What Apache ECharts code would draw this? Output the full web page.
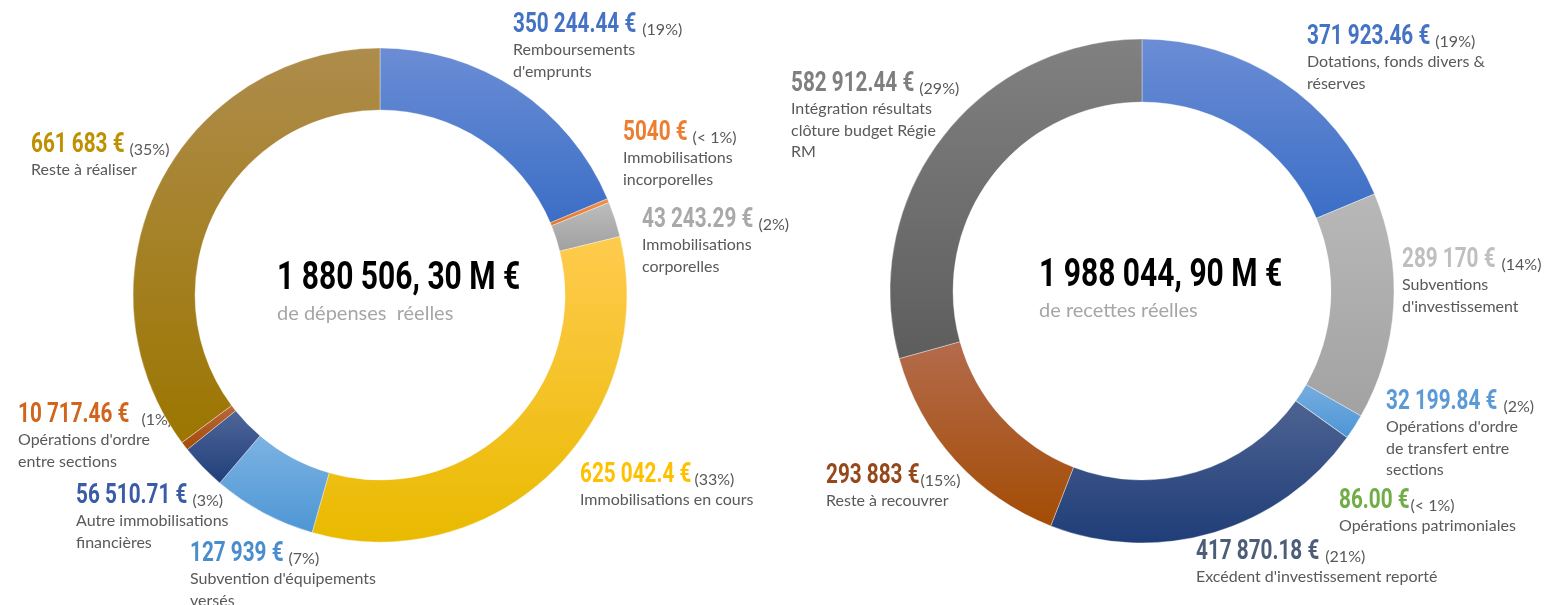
<!DOCTYPE html>
<html>
<head>
<meta charset="utf-8">
<script src="https://cdn.jsdelivr.net/npm/echarts@6/dist/echarts.min.js"></script>
<style>
html,body{margin:0;padding:0;background:#fff;}
#chart{width:1547px;height:605px;}
</style>
</head>
<body>
<div id="chart"></div>
<script>
// ---------- DATA ----------
const expCategories = ["Remboursements\nd'emprunts", "Immobilisations\nincorporelles", "Immobilisations\ncorporelles", "Immobilisations en cours", "Subvention d'équipements\nversés", "Autre immobilisations\nfinancières", "Opérations d'ordre\nentre sections", "Reste à réaliser"];
const expValues = [350244.44, 5040, 43243.29, 625042.4, 127939, 56510.71, 10717.46, 661683];
const expValueLabels = ["350 244.44 €", "5040 €", "43 243.29 €", "625 042.4 €", "127 939 €", "56 510.71 €", "10 717.46 €", "661 683 €"];
const expPctLabels = ["(19%)", "(< 1%)", "(2%)", "(33%)", "(7%)", "(3%)", "(1%)", "(35%)"];
const expTotalLabel = "1 880 506, 30 M €";
const expSubLabel = "de dépenses  réelles";

const recCategories = ["Dotations, fonds divers &\nréserves", "Subventions\nd'investissement", "Opérations d'ordre\nde transfert entre\nsections", "Opérations patrimoniales", "Excédent d'investissement reporté", "Reste à recouvrer", "Intégration résultats\nclôture budget Régie\nRM"];
const recValues = [371923.46, 289170, 32199.84, 86.00, 417870.18, 293883, 582912.44];
const recValueLabels = ["371 923.46 €", "289 170 €", "32 199.84 €", "86.00 €", "417 870.18 €", "293 883 €", "582 912.44 €"];
const recPctLabels = ["(19%)", "(14%)", "(2%)", "(< 1%)", "(21%)", "(15%)", "(29%)"];
const recTotalLabel = "1 988 044, 90 M €";
const recSubLabel = "de recettes réelles";

// ---------- STYLES / LAYOUT ----------
const expTop = ['#6B8DD5', '#F29256', '#BDBDBD', '#FFCB4E', '#7DB3E3', '#4E6699', '#B8683C', '#AE8C4C'];
const expBot = ['#3B6EC6', '#E6701F', '#A0A0A0', '#E9BA00', '#4D96D4', '#223F7A', '#A54A08', '#9C7600'];
const expNumColor = ['#4472C4', '#ED7D31', '#A9A9A9', '#FFC000', '#4A8DCD', '#3A5BA5', '#D0661E', '#BF9000'];
const expLabelPos = [[513, 15], [623, 123], [642, 210], [580, 465], [190, 544], [76, 486], [18, 405], [31, 135]];
const expGap = [6, 5, 5, 3, 5, 5, 12, 5];

const recTop = ['#6B8DD5', '#B8B8B8', '#76AEE0', '#70AD47', '#4D6392', '#B46B4C', '#818181'];
const recBot = ['#3B6EC6', '#A2A2A2', '#4D95D6', '#70AD47', '#1F3D78', '#A34C04', '#5D5D5D'];
const recNumColor = ['#4472C4', '#BFBFBF', '#5B9BD5', '#70AD47', '#4D5D78', '#95481A', '#7F7F7F'];
const recLabelPos = [[1307, 27], [1402, 250], [1386, 392], [1339, 491], [1196, 542], [826, 466], [791, 74]];
const recGap = [5, 6, 6, 1, 6, 1, 5];

const NUM_FAMILY = 'Roboto, "Noto Sans", sans-serif';
const TXT_FAMILY = 'Lato, "Noto Sans", sans-serif';
const NUM_FONT = 'bold 28px ' + NUM_FAMILY;
const NUM_SCALE = 0.74;
const PCT_FONT = '16px ' + TXT_FAMILY;
const TXT_FONT = '16px ' + TXT_FAMILY;
const BIG_FONT = 'bold 39px ' + NUM_FAMILY;
const BIG_SCALE = 0.77;
const SUB_FONT = '20px ' + TXT_FAMILY;

const measureCtx = document.createElement('canvas').getContext('2d');
function textWidth(text, font) { measureCtx.font = font; return measureCtx.measureText(text).width; }

function buildData(cats, vals, tops, bots) {
  return vals.map((v, i) => ({
    name: cats[i].replace(/\n/g, ' '),
    value: v,
    itemStyle: {
      color: new echarts.graphic.LinearGradient(0, 0, 0, 1, [
        { offset: 0, color: tops[i] },
        { offset: 1, color: bots[i] }
      ])
    }
  }));
}

function buildLabels(cats, valLabels, pctLabels, numColors, gaps, positions) {
  return cats.map((c, i) => {
    const [x, capTop] = positions[i];
    const numW = textWidth(valLabels[i], NUM_FONT) * NUM_SCALE;
    const children = [
      { type: 'text', x: 0, y: capTop - 3.6, scaleX: NUM_SCALE, silent: true,
        style: { text: valLabels[i], font: NUM_FONT, fill: numColors[i], verticalAlign: 'top', align: 'left' } },
      { type: 'text', x: numW + gaps[i], y: capTop + 6.8, silent: true,
        style: { text: pctLabels[i], font: PCT_FONT, fill: '#595959', verticalAlign: 'top', align: 'left' } }
    ];
    c.split('\n').forEach((line, k) => {
      children.push({ type: 'text', x: 0, y: capTop + 29.5 + k * 21.5 - 2.2, silent: true,
        style: { text: line, font: TXT_FONT, fill: '#595959', verticalAlign: 'top', align: 'left' } });
    });
    return { type: 'group', x: x, y: 0, children: children };
  });
}

function makeSeries(data, center, radius) {
  return {
    type: 'pie',
    center: center,
    radius: radius,
    startAngle: 90,
    clockwise: true,
    avoidLabelOverlap: false,
    animation: false,
    silent: true,
    itemStyle: { borderColor: 'rgba(255,255,255,0.6)', borderWidth: 0.6 },
    label: { show: false },
    labelLine: { show: false },
    emphasis: { disabled: true },
    data: data
  };
}

const chart = echarts.init(document.getElementById('chart'), null, { renderer: 'canvas' });

const graphics = []
  .concat(buildLabels(expCategories, expValueLabels, expPctLabels, expNumColor, expGap, expLabelPos))
  .concat(buildLabels(recCategories, recValueLabels, recPctLabels, recNumColor, recGap, recLabelPos))
  .concat([
    { type: 'text', x: 277, y: 260, scaleX: BIG_SCALE, silent: true,
      style: { text: expTotalLabel, font: BIG_FONT, fill: '#000000', verticalAlign: 'top' } },
    { type: 'text', x: 277, y: 304, silent: true,
      style: { text: expSubLabel, font: SUB_FONT, fill: '#A6A6A6', verticalAlign: 'top' } },
    { type: 'text', x: 1039, y: 257, scaleX: BIG_SCALE, silent: true,
      style: { text: recTotalLabel, font: BIG_FONT, fill: '#000000', verticalAlign: 'top' } },
    { type: 'text', x: 1039, y: 301, silent: true,
      style: { text: recSubLabel, font: SUB_FONT, fill: '#A6A6A6', verticalAlign: 'top' } }
  ]);

chart.setOption({
  backgroundColor: '#ffffff',
  animation: false,
  series: [
    makeSeries(buildData(expCategories, expValues, expTop, expBot), [380, 295], [185, 247]),
    makeSeries(buildData(recCategories, recValues, recTop, recBot), [1142, 291], [189, 252])
  ],
  graphic: graphics
});
</script>
</body>
</html>
